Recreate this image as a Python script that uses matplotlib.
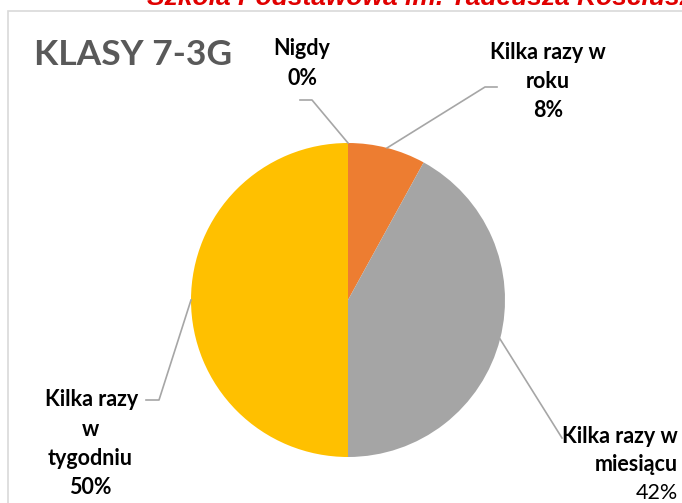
import matplotlib
matplotlib.use("Agg")
import matplotlib.pyplot as plt
import numpy as np
from matplotlib.patches import Rectangle

categories = ["Nigdy", "Kilka razy w roku", "Kilka razy w miesiącu", "Kilka razy w tygodniu"]
values = [0, 8, 42, 50]
colors = ["#4472C4", "#ED7D31", "#A5A5A5", "#FFC000"]
label_lines = [["Nigdy"], ["Kilka razy w", "roku"], ["Kilka razy w", "miesiącu"],
               ["Kilka razy ", "w", "tygodniu"]]
title = "KLASY 7-3G"
header = "Szkoła Podstawowa im. Tadeusza Kościuszki"

W, H = 682, 503
fig = plt.figure(figsize=(W / 100, H / 100), dpi=100)
fig.patch.set_facecolor("white")

def fx(x):
    return x / W

def fy(y):
    return 1 - y / H

# chart border
fig.patches.append(Rectangle((fx(8), fy(700)), fx(900), (700 - 11) / H, transform=fig.transFigure,
                             fill=False, edgecolor="#D9D9D9", linewidth=1.2))

# header (cut off at top)
fig.text(fx(147), fy(5), header, color="#E00000", fontsize=19, fontweight="bold",
         fontstyle="italic", family="Liberation Sans", ha="left", va="baseline")

# title
fig.text(fx(34), fy(65), title, color="#595959", fontsize=25.5, fontweight="bold",
         family="Lato", ha="left", va="baseline")

cx, cy, r = 348, 300, 157
ax = fig.add_axes([fx(cx - r), fy(cy + r), 2 * r / W, 2 * r / H])
wedges, _ = ax.pie(values, colors=colors, startangle=90, counterclock=False,
                   wedgeprops=dict(linewidth=0))
ax.set_xlim(-1, 1)
ax.set_ylim(-1, 1)
ax.set_aspect("auto")
ax.axis("off")

FS = 15.5
# label layout: (x, ha, first baseline, pitch, percent bold)
layouts = [(302, "center", 55, 30, True),
           (548, "center", 59, 29, True),
           (678, "right", 443, 28, False),
           (90, "center", 406, 29.5, True)]
for lines, v, (x, ha, y0, pitch, pbold) in zip(label_lines, values, layouts):
    n = len(lines)
    for i, t in enumerate(lines):
        xx = x
        if t.endswith(" "):
            xx = x + 4
        fig.text(fx(xx), fy(y0 + i * pitch), t, fontsize=FS, fontweight="bold", family="Lato",
                 color="black", ha=ha, va="baseline")
    fig.text(fx(x), fy(y0 + n * pitch), f"{v}%", fontsize=FS,
             fontweight="bold" if pbold else "normal", family="Lato",
             color="black", ha=ha, va="baseline")

# leader lines from wedge mid-angle points
def edge_point(w):
    ang = np.deg2rad((w.theta1 + w.theta2) / 2)
    return cx + r * np.cos(ang), cy - r * np.sin(ang)

line_kw = dict(color="#A6A6A6", linewidth=1.2, transform=fig.transFigure)
elbows = [[(312, 100), (300, 100)], [(485, 87), (497, 87)], [(562, 438)],
          [(159, 400), (146, 400)]]
for w, pts in zip(wedges, elbows):
    p0 = edge_point(w)
    xs = [p0[0]] + [p[0] for p in pts]
    ys = [p0[1]] + [p[1] for p in pts]
    fig.lines.append(plt.Line2D([fx(v) for v in xs], [fy(v) for v in ys], **line_kw))

fig.savefig("out.png", dpi=100)
